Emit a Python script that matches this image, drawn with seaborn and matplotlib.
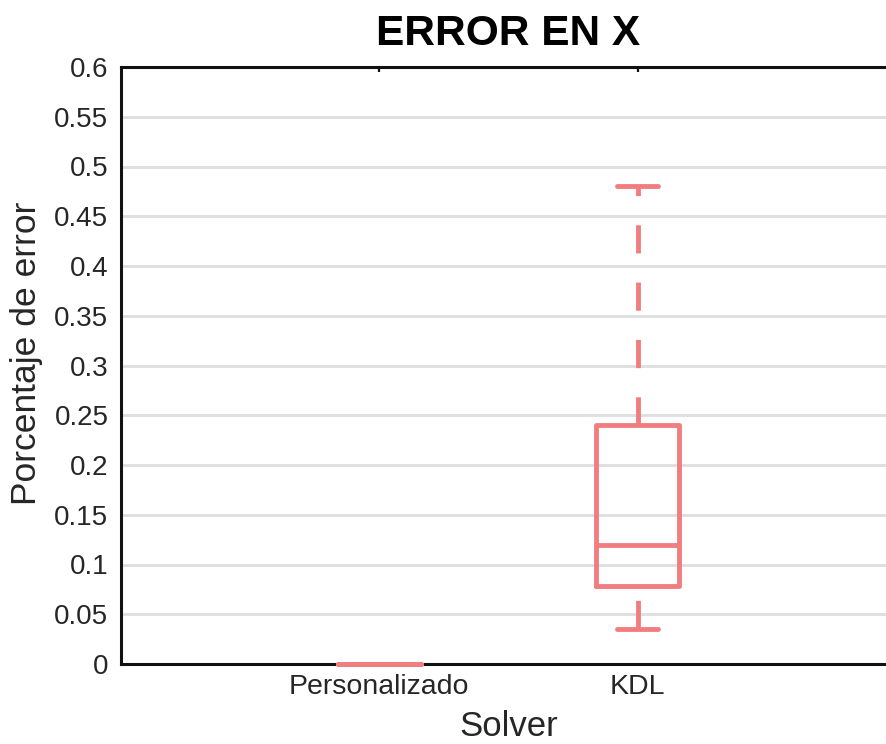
import pandas as pd
import matplotlib
matplotlib.use("Agg")
import matplotlib.pyplot as plt
import seaborn as sns

# datos
solvers = ["Personalizado", "KDL"]
error_personalizado = [0.0, 0.0, 0.0, 0.0, 0.0]
error_kdl = [0.035, 0.078, 0.12, 0.24, 0.48]
y_ticks = [0, 0.05, 0.1, 0.15, 0.2, 0.25, 0.3, 0.35, 0.4, 0.45, 0.5, 0.55, 0.6]
y_tick_labels = ["0", "0.05", "0.1", "0.15", "0.2", "0.25", "0.3", "0.35",
                 "0.4", "0.45", "0.5", "0.55", "0.6"]

df = pd.DataFrame({
    "Solver": [solvers[0]] * len(error_personalizado) + [solvers[1]] * len(error_kdl),
    "error": error_personalizado + error_kdl,
})

sns.set_theme(style="white")
plt.rcParams["font.family"] = ["Liberation Sans", "DejaVu Sans"]

color_caja = "#F07E80"
gris_texto = "#262626"
patron = (5.8, 6.0)

fig = plt.figure(figsize=(8.87, 7.44), dpi=100)
ax = fig.add_axes([121 / 887, 80 / 744, 775 / 887, 597 / 744])

sns.boxplot(data=df, x="Solver", y="error", order=solvers, color=color_caja,
            fill=False, linewidth=3.5, width=0.32, showfliers=False,
            whiskerprops=dict(linestyle=(0, patron)), ax=ax)

# la linea de Personalizado queda sobre el eje x
for art in list(ax.patches) + list(ax.lines):
    art.set_clip_on(False)
    art.set_zorder(3)

# bigote inferior: empieza con hueco junto a la caja
for ln in ax.lines:
    yd = list(ln.get_ydata())
    if len(yd) == 2 and yd[1] < yd[0] and min(yd) == min(error_kdl):
        ln.set_linestyle((8.85, patron))

ax.set_xlim(-1, 2)
ax.set_ylim(0, 0.6)
ax.set_yticks(y_ticks)
ax.set_yticklabels(y_tick_labels)

ax.yaxis.grid(True, color="#DEDEDE", linewidth=2)
ax.xaxis.grid(False)
ax.set_axisbelow(True)

for s in ax.spines.values():
    s.set_color("#111111")
    s.set_linewidth(2.2)

ax.tick_params(axis="both", which="both", direction="in", top=True, right=True,
               length=3.5, width=1.6, color="#111111", labelcolor=gris_texto,
               labelsize=20)
ax.tick_params(axis="x", pad=7.5, labelsize=20.5)
ax.tick_params(axis="y", pad=9)

ax.set_title("ERROR EN X", fontsize=30.5, fontweight="bold", color="black", pad=16)
ax.set_xlabel("Solver", fontsize=25, color=gris_texto)
ax.set_ylabel("Porcentaje de error", fontsize=25.5, color=gris_texto)
ax.xaxis.set_label_coords(0.5, -0.077)
ax.yaxis.set_label_coords(-0.1006, 0.52)

fig.savefig("out.png", dpi=100)
